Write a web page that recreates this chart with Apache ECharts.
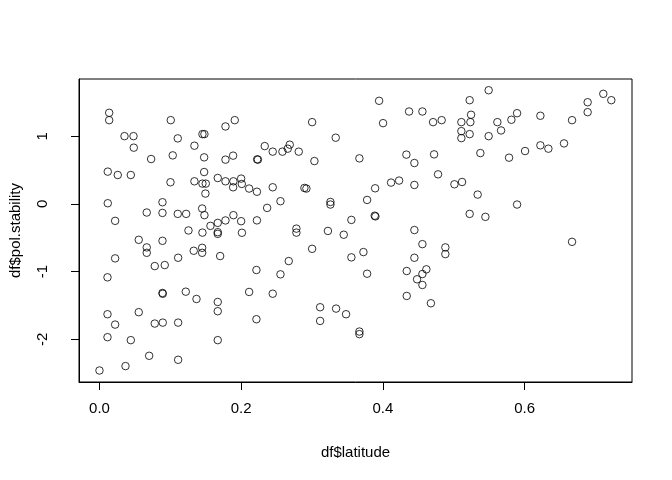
<!DOCTYPE html>
<html>
<head>
<meta charset="utf-8">
<script src="https://cdn.jsdelivr.net/npm/echarts@6/dist/echarts.min.js"></script>
<style>
  html, body { margin: 0; padding: 0; background: #fff; }
  #main { width: 672px; height: 480px; }
</style>
</head>
<body>
<div id="main"></div>
<script>
// 数据：df$latitude / df$pol.stability
var latitude = [
  0.0137, 0.0137, 0.1006, 0.1778, 0.1909, 0.0353, 0.0480, 0.1105, 0.1453, 0.1481,
  0.0484, 0.1340, 0.0729, 0.1034, 0.1477, 0.1778, 0.1886, 0.0117, 0.0258, 0.0442,
  0.1002, 0.1477, 0.1340, 0.1453, 0.1500, 0.1669, 0.1778, 0.1890, 0.1999, 0.1886,
  0.2008, 0.2112, 0.2222, 0.1495, 0.0117, 0.0889, 0.0221, 0.0667, 0.0889, 0.1105,
  0.1223, 0.1449, 0.1481, 0.1778, 0.1890, 0.1999, 0.1669, 0.1566, 0.2222, 0.1256,
  0.1453, 0.1669, 0.1669, 0.2010,
  0.3946, 0.4369, 0.4557, 0.3001, 0.4002, 0.3334, 0.2332, 0.2445, 0.2582, 0.2657,
  0.2685, 0.2812, 0.2225, 0.2236, 0.3033, 0.3668, 0.4331, 0.4444, 0.2445, 0.2892,
  0.2920, 0.3890, 0.4115, 0.4228, 0.4444, 0.2366, 0.2554, 0.3259, 0.3259, 0.3777,
  0.3555, 0.3884, 0.3894, 0.2779, 0.2779, 0.3224, 0.3447, 0.4444,
  0.5492, 0.5224, 0.7110, 0.7223, 0.6889, 0.6889, 0.4708, 0.4829, 0.5107, 0.5234,
  0.5244, 0.5107, 0.5107, 0.5224, 0.5615, 0.5667, 0.5813, 0.5893, 0.5492, 0.6222,
  0.6669, 0.4722, 0.5375, 0.5780, 0.6006, 0.6222, 0.6335, 0.6556, 0.4778, 0.5009,
  0.5117, 0.5337, 0.5893, 0.5224, 0.5446,
  0.0554, 0.0889, 0.0667, 0.0667, 0.0221, 0.1110, 0.1330, 0.1449, 0.1449, 0.1703,
  0.0780, 0.0921, 0.0113, 0.2215, 0.0889, 0.0893, 0.1218, 0.1369, 0.1669, 0.1669,
  0.2112, 0.2215, 0.0113, 0.0221, 0.0554, 0.0780, 0.0893, 0.1110, 0.0113, 0.0442,
  0.1669, 0.0701, 0.1110, 0.0000, 0.0367,
  0.3001, 0.2671, 0.2554, 0.2445, 0.3555, 0.3725, 0.3777, 0.3114, 0.3339, 0.3480,
  0.3114, 0.3668, 0.3668, 0.4557, 0.4444, 0.4336, 0.4482, 0.4557, 0.4613, 0.4557,
  0.4336, 0.4677,
  0.4881, 0.4881, 0.6669
]
var polStability = [
  1.346, 1.237, 1.237, 1.144, 1.237, 1.001, 1.001, 0.968, 1.031, 1.031,
  0.831, 0.860, 0.663, 0.717, 0.688, 0.654, 0.713, 0.477, 0.427, 0.427,
  0.320, 0.471, 0.334, 0.300, 0.300, 0.383, 0.334, 0.334, 0.374, 0.246,
  0.295, 0.227, 0.180, 0.153, 0.010, 0.025, -0.250, -0.127, -0.133, -0.147,
  -0.147, -0.068, -0.166, -0.244, -0.166, -0.255, -0.280, -0.324, -0.243, -0.392,
  -0.424, -0.417, -0.442, -0.426,
  1.523, 1.365, 1.365, 1.208, 1.193, 0.978, 0.854, 0.772, 0.772, 0.816,
  0.875, 0.772, 0.658, 0.654, 0.633, 0.673, 0.728, 0.604, 0.246, 0.236,
  0.227, 0.231, 0.315, 0.345, 0.280, -0.059, 0.040, 0.029, -0.009, 0.059,
  -0.236, -0.174, -0.184, -0.365, -0.424, -0.399, -0.455, -0.386,
  1.679, 1.532, 1.626, 1.532, 1.502, 1.355, 1.208, 1.237, 1.208, 1.208,
  1.317, 1.075, 0.972, 1.031, 1.208, 1.085, 1.243, 1.340, 1.001, 1.302,
  1.237, 0.732, 0.751, 0.683, 0.781, 0.865, 0.816, 0.894, 0.437, 0.290,
  0.324, 0.138, -0.009, -0.147, -0.191,
  -0.530, -0.545, -0.642, -0.722, -0.804, -0.795, -0.692, -0.648, -0.722, -0.770,
  -0.918, -0.903, -1.084, -0.976, -1.315, -1.327, -1.296, -1.404, -1.448, -1.585,
  -1.300, -1.703, -1.629, -1.782, -1.599, -1.767, -1.753, -1.753, -1.968, -2.012,
  -2.012, -2.243, -2.302, -2.460, -2.395,
  -0.663, -0.844, -1.040, -1.326, -0.789, -0.711, -1.031, -1.526, -1.546, -1.629,
  -1.728, -1.885, -1.923, -0.594, -0.795, -0.991, -1.113, -1.035, -0.966, -1.197,
  -1.359, -1.467,
  -0.642, -0.741, -0.560
]
// 刻度
var xTicks = [0, 0.2, 0.4, 0.6]
var yTicks = [-2, -1, 0, 1]

var points = latitude.map(function (x, i) { return [x, polStability[i]] })

var font = 'Liberation Sans, Arial, sans-serif'
var myChart = echarts.init(document.getElementById('main'), null, { renderer: 'canvas' })
myChart.setOption({
  backgroundColor: '#fff',
  animation: false,
  grid: {
    left: 78,
    right: 40,
    top: 79,
    bottom: 98,
    show: true,
    borderColor: '#000',
    borderWidth: 1,
    backgroundColor: 'transparent'
  },
  xAxis: {
    type: 'value',
    min: -0.0289,
    max: 0.7515,
    name: 'df$latitude',
    nameLocation: 'middle',
    nameGap: 63,
    nameTextStyle: { color: '#000', fontSize: 15, fontFamily: font },
    axisLine: { show: true, onZero: false, lineStyle: { color: '#000', width: 1 } },
    axisTick: { show: true, length: 8, inside: false, customValues: xTicks, lineStyle: { color: '#000' } },
    axisLabel: {
      customValues: xTicks,
      margin: 19,
      color: '#000',
      fontSize: 15,
      fontFamily: font,
      formatter: function (v) { return v.toFixed(1) }
    },
    splitLine: { show: false }
  },
  yAxis: {
    type: 'value',
    min: -2.63,
    max: 1.845,
    name: 'df$pol.stability',
    nameLocation: 'middle',
    nameGap: 56,
    nameTextStyle: { color: '#000', fontSize: 15, fontFamily: font },
    axisLine: { show: true, onZero: false, lineStyle: { color: '#000', width: 1 } },
    axisTick: { show: true, length: 8, inside: false, customValues: yTicks, lineStyle: { color: '#000' } },
    axisLabel: {
      customValues: yTicks,
      rotate: 90,
      margin: 29,
      color: '#000',
      fontSize: 15,
      fontFamily: font,
      formatter: function (v) { return String(v) }
    },
    splitLine: { show: false }
  },
  series: [
    {
      type: 'scatter',
      data: points,
      symbol: 'circle',
      symbolSize: 7.5,
      itemStyle: { color: 'transparent', borderColor: '#000', borderWidth: 1 }
    }
  ]
})
</script>
</body>
</html>
